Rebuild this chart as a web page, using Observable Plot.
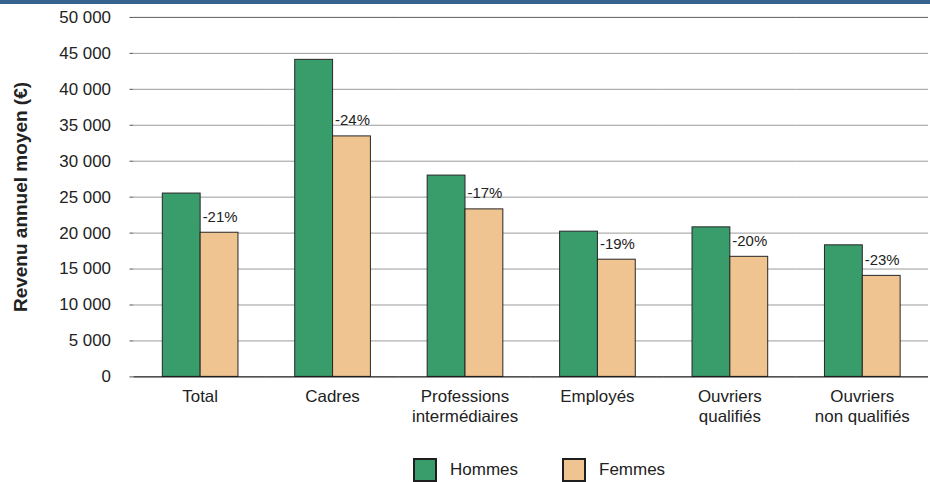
<!DOCTYPE html>
<html lang="fr">
<head>
<meta charset="utf-8">
<script src="https://cdn.jsdelivr.net/npm/d3@7"></script>
<script src="https://cdn.jsdelivr.net/npm/@observablehq/plot@0.6"></script>
<style>
  html, body { margin: 0; padding: 0; background: #fff; overflow: hidden; }
  body { width: 930px; height: 482px; position: relative; font-family: "Liberation Sans", Arial, sans-serif; }
  #bandeau { position: absolute; left: 0; top: 0; width: 930px; height: 4px; background: #35648e; z-index: 2; }
  #chart { position: absolute; left: 0; top: 0; }
  #titre-y {
    position: absolute; left: 20px; top: 197px; white-space: nowrap;
    transform: translate(-50%, -50%) rotate(-90deg);
    font-size: 19px; font-weight: bold; color: #222; line-height: 1;
  }
  .legende { position: absolute; top: 458px; display: flex; align-items: center; font-size: 17px; color: #222; }
  .legende span.carre { display: inline-block; width: 20px; height: 20px; border: 2px solid #1e1e1e; margin-right: 13px; }
</style>
</head>
<body>
<div id="bandeau"></div>
<div id="chart"></div>
<div id="titre-y">Revenu annuel moyen (€)</div>
<div class="legende" style="left:413px"><span class="carre" style="background:#389c6b"></span>Hommes</div>
<div class="legende" style="left:562px"><span class="carre" style="background:#f0c490"></span>Femmes</div>
<script>
// Revenu annuel moyen par catégorie socioprofessionnelle et par sexe (€)
const categories = ["Total", "Cadres", "Professions\nintermédiaires", "Employés", "Ouvriers\nqualifiés", "Ouvriers\nnon qualifiés"];
const hommes = [25500, 44100, 28000, 20200, 20800, 18300];
const femmes = [20050, 33450, 23300, 16300, 16700, 14050];
const sexes = ["Hommes", "Femmes"];
const yTicks = [0, 5000, 10000, 15000, 20000, 25000, 30000, 35000, 40000, 45000, 50000];

const couleurs = ["#389c6b", "#f0c490"];

// Tableau long : une ligne par catégorie et par sexe
const rows = categories.flatMap((c, i) => [
  {categorie: c, sexe: "Hommes", revenu: hommes[i]},
  {categorie: c, sexe: "Femmes", revenu: femmes[i]}
]);

// Écart femmes / hommes, en pourcentage arrondi
const ecarts = categories.map((c, i) => ({
  categorie: c,
  femmes: femmes[i],
  texte: `${Math.round((femmes[i] / hommes[i] - 1) * 100)}%`
}));

const fr = d3.formatLocale({decimal: ",", thousands: " ", grouping: [3], currency: ["", " €"]});
const fmt = fr.format(",d");

const halfBand = 801 / categories.length / 2;

const chart = Plot.plot({
  width: 934,
  height: 452,
  marginTop: 17,
  marginBottom: 74,
  marginLeft: 132,
  marginRight: 1,
  style: {fontFamily: "'Liberation Sans', Arial, sans-serif", fontSize: "17px", color: "#222", background: "transparent"},
  fx: {domain: categories, padding: 0, label: null},
  x: {domain: sexes, paddingInner: 0, paddingOuter: 0.734, axis: null},
  y: {domain: [0, 50000], axis: null},
  color: {domain: sexes, range: couleurs},
  marks: [
    Plot.gridY(yTicks, {stroke: "#9a9a9a", strokeOpacity: 1}),
    Plot.ruleY([50000], {stroke: "#6a6a6a"}),
    Plot.barY(rows, {fx: "categorie", x: "sexe", y: "revenu", fill: "sexe", stroke: "#262626", strokeWidth: 1}),
    Plot.text(ecarts, {
      fx: "categorie", x: () => "Femmes", y: "femmes", text: "texte",
      dx: -17, dy: -16, textAnchor: "start", fontSize: 15, fill: "#222"
    }),
    // axe horizontal et graduations aux limites des catégories
    Plot.ruleY([0], {stroke: "#111"}),
    Plot.ruleX([0], {y1: 0, y2: 0, insetBottom: -5, dx: -halfBand, stroke: "#111"}),
    // axe vertical
    Plot.ruleX([{categorie: "Total"}], {fx: "categorie", y1: 50000, y2: 0, insetBottom: -4, dx: -halfBand, stroke: "#111"}),
    Plot.axisY(yTicks, {tickSize: 4, tickPadding: 19, tickFormat: fmt, stroke: "#555", fill: "#222", label: null}),
    Plot.axisFx({anchor: "bottom", tickSize: 0, tickPadding: 11, lineHeight: 1.18, label: null, fill: "#222"})
  ]
});

document.getElementById("chart").append(chart);
</script>
</body>
</html>
